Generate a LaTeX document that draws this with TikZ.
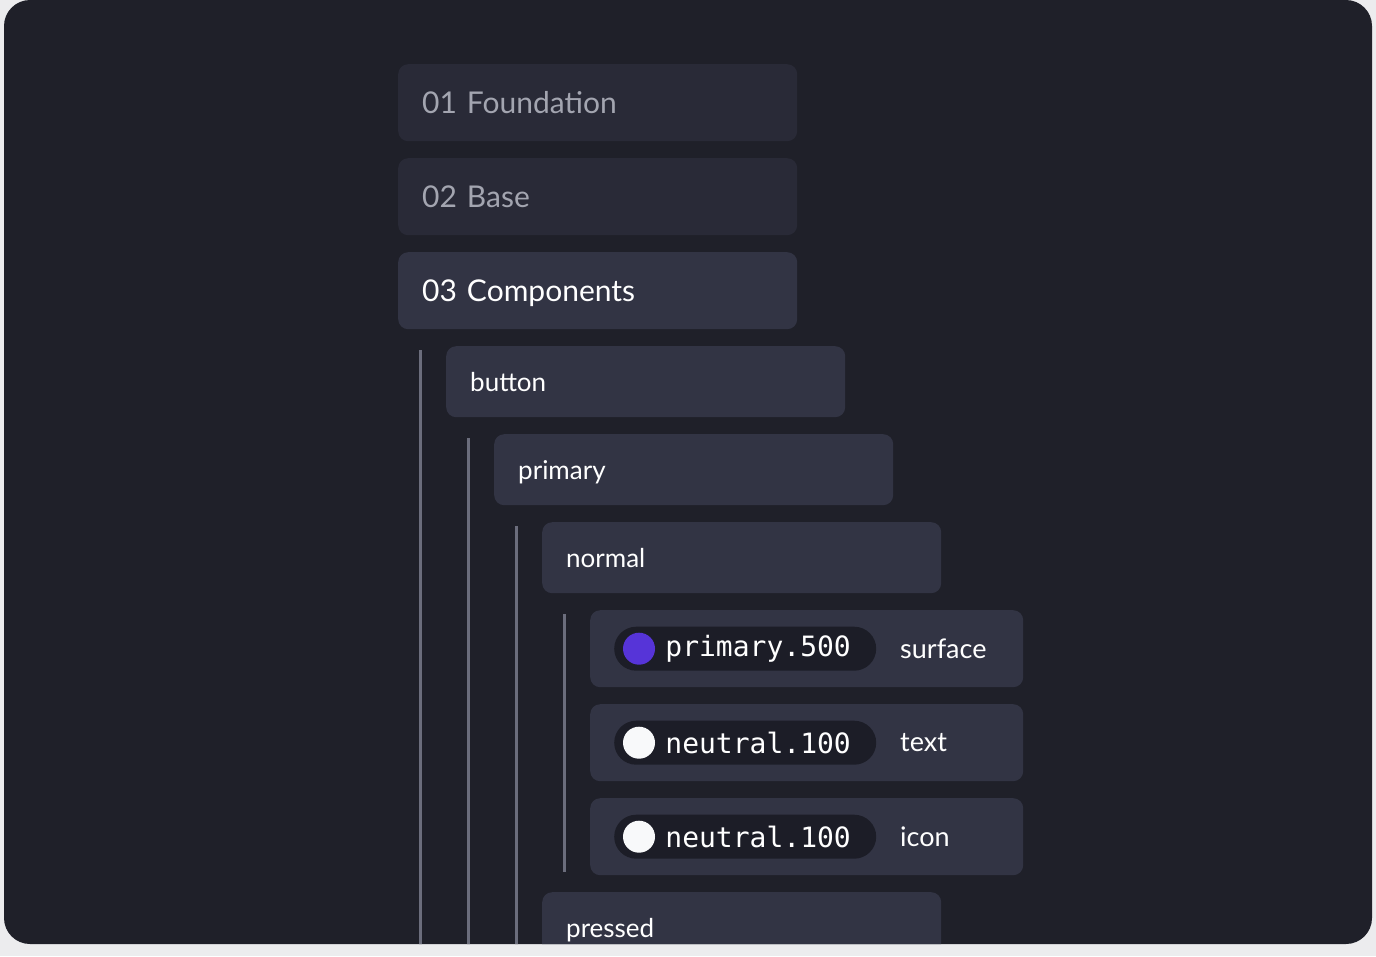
\documentclass[tikz,border=0pt]{standalone}
\usepackage{fontspec}
\setmainfont{Lato}
\setmonofont{DejaVu Sans Mono}
\usetikzlibrary{positioning}
\definecolor{pageGray}{HTML}{ECECEE}
\definecolor{panelDark}{HTML}{1F2029}
\definecolor{levelDim}{HTML}{292A37}
\definecolor{levelLit}{HTML}{323444}
\definecolor{pillDark}{HTML}{1C1D27}
\definecolor{guideGray}{HTML}{6B6D7C}
\definecolor{textDim}{HTML}{A3A5B0}
\definecolor{swatchPurple}{HTML}{5634D8}
\definecolor{swatchWhite}{HTML}{F8F9FA}
\tikzset{
  level/.style={rectangle, rounded corners=10pt, fill=levelLit, minimum height=#1,
    text=white, anchor=north west, inner xsep=24pt, text depth=0pt},
  layer/.style={level=77pt, fill=levelDim, text=textDim, minimum width=399pt, font=\fontsize{30}{30}\selectfont, align=left, text width=351pt},
  item/.style={level=71pt, minimum width=399pt, font=\fontsize{26}{26}\selectfont, text width=351pt},
  token/.style={level=77pt, minimum width=433pt},
  pill/.style={rectangle, rounded corners=22pt, fill=pillDark, minimum width=262pt, minimum height=44pt, anchor=west},
  swatch/.style={circle, minimum size=32pt, inner sep=0pt},
  guide/.style={guideGray, line width=3pt},
}
\begin{document}
\begin{tikzpicture}[x=1pt, y=-1pt]
  \useasboundingbox (0,0) rectangle (1376,956);
  \fill[pageGray] (0,0) rectangle (1376,956);
  \fill[panelDark, rounded corners=26pt] (4,0) rectangle (1372,944);
  \clip[rounded corners=26pt] (4,0) rectangle (1372,944);

  % layers
  \node[layer] (found) at (398,64) {01 Foundation};
  \node[layer] (base) at (398,158) {02 Base};
  \node[layer, fill=levelLit, text=white] (comp) at (398,252) {03 Components};

  % tree
  \node[item] (button) at (446,346) {button};
  \node[item] (primary) at (494,434) {primary};
  \node[item] (normal) at (542,522) {normal};
  \node[item, minimum height=71pt] (pressed) at (542,892) {pressed};

  % tokens
  \foreach \y/\col/\name/\role [count=\i] in {
      610/swatchPurple/primary.500/surface,
      704/swatchWhite/neutral.100/text,
      798/swatchWhite/neutral.100/icon} {
    \node[token] (row\i) at (590,\y) {};
    \node[pill] (pill\i) at ([xshift=24pt]row\i.west) {};
    \node[swatch, fill=\col] (dot\i) at ([xshift=25pt]pill\i.west) {};
    \node[right=10pt of dot\i, inner sep=0pt, text=white, font=\ttfamily\fontsize{28}{28}\selectfont] (code\i) {\name};
    \node[anchor=west, inner sep=0pt, text=white, font=\fontsize{27}{27}\selectfont] (role\i) at ([xshift=310pt]row\i.west) {\role};
  }

  % guides
  \coordinate (g1) at (420,350);
  \coordinate (g2) at (468,438);
  \coordinate (g3) at (516,526);
  \coordinate (g4) at (564,614);
  \draw[guide] (g1) -- (g1 |- 0,950);
  \draw[guide] (g2) -- (g2 |- 0,950);
  \draw[guide] (g3) -- (g3 |- 0,950);
  \draw[guide] (g4) -- (g4 |- 0,872);
\end{tikzpicture}
\end{document}
